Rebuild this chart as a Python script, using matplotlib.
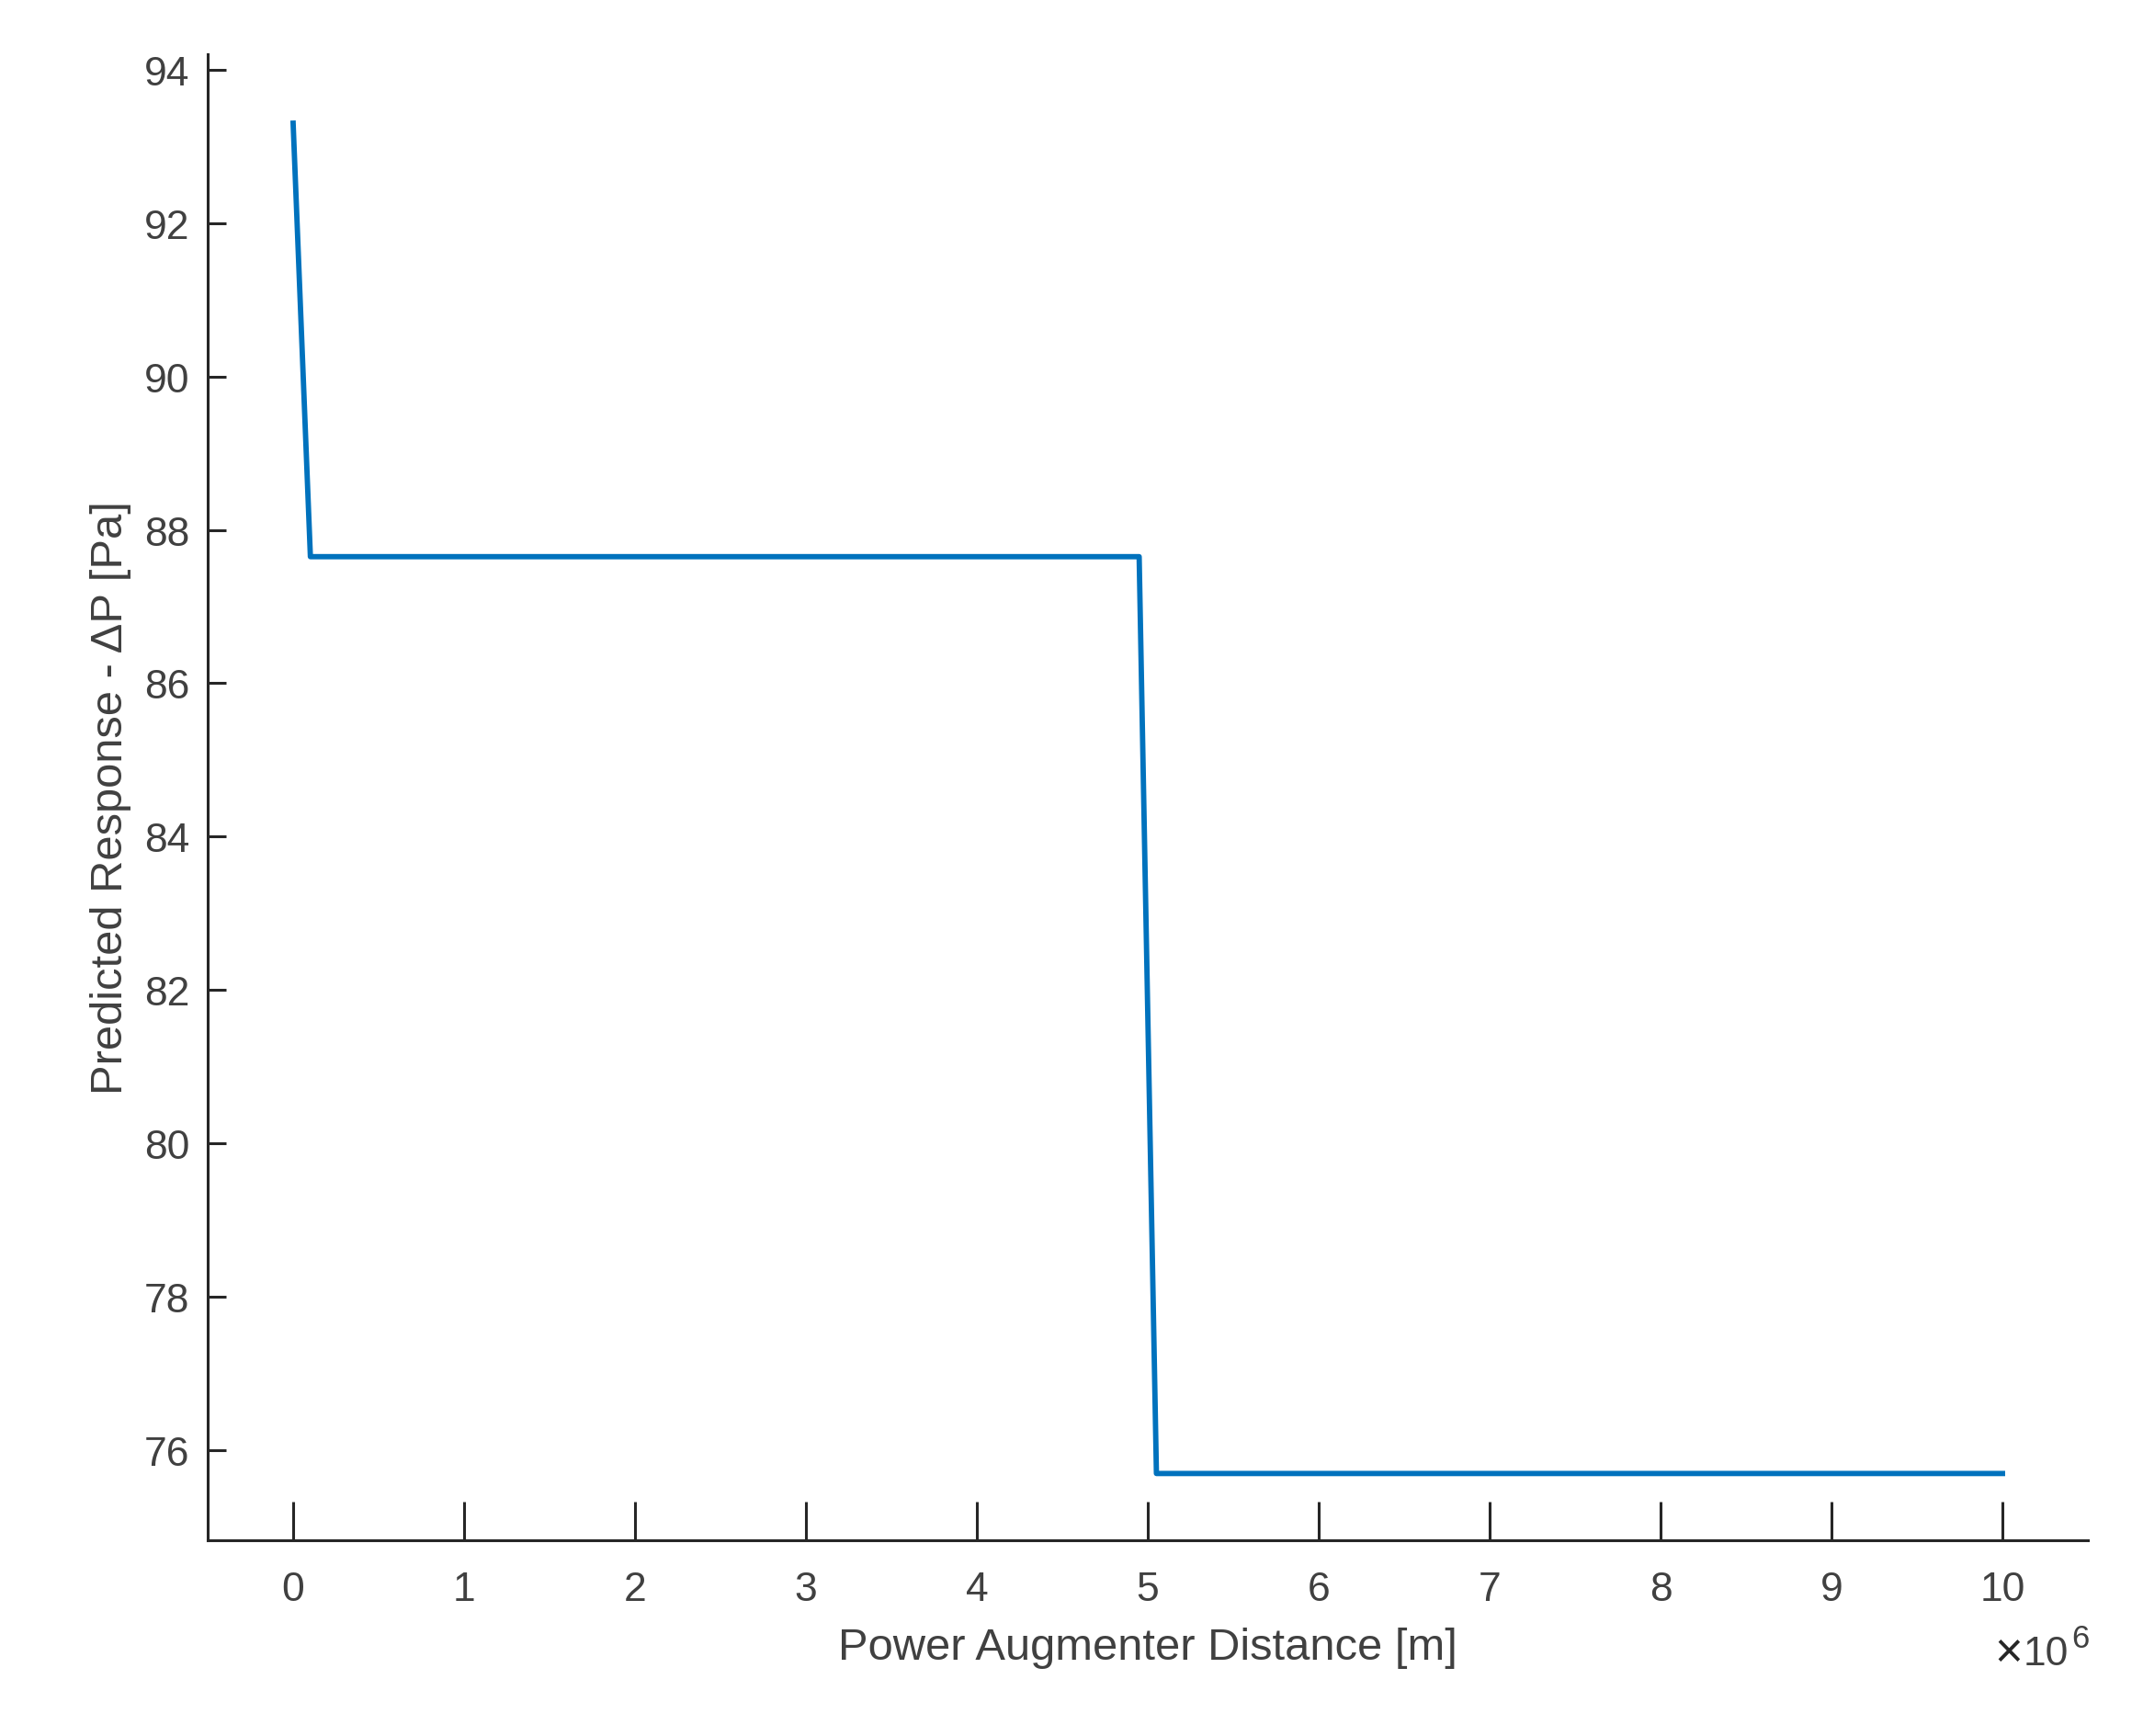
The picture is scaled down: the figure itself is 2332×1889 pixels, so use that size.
import matplotlib
matplotlib.use("Agg")
import matplotlib.pyplot as plt
from matplotlib.ticker import FuncFormatter

plt.rcParams['font.family'] = ['Liberation Sans', 'DejaVu Sans']

# predicted response vs augmenter distance (x in metres)
distance = [0.0, 0.10101e6, 4.94949e6, 5.05051e6, 10.0e6]
delta_p = [93.30, 87.65, 87.65, 75.70, 75.70]

x_ticks = [i * 1e6 for i in range(11)]
y_ticks = [76, 78, 80, 82, 84, 86, 88, 90, 92, 94]

axis_col = '#262626'
text_col = '#404040'

W, H = 2332, 1890
fig = plt.figure(figsize=(W / 200, H / 200), dpi=200)
ax = fig.add_axes([0.0969, 0.1127, 0.8774, 0.8556])

ax.plot(distance, delta_p, color='#0072BD', linewidth=2.1)

ax.set_xlim(-0.5e6, 10.5e6)
ax.set_ylim(74.83, 94.2)
ax.set_xticks(x_ticks)
ax.set_yticks(y_ticks)
ax.xaxis.set_major_formatter(FuncFormatter(lambda v, p: f"{v / 1e6:g}"))

for s in ['top', 'right']:
    ax.spines[s].set_visible(False)
for s in ['left', 'bottom']:
    ax.spines[s].set_color(axis_col)
    ax.spines[s].set_linewidth(1.1)

ax.tick_params(axis='x', direction='in', length=15, width=1.1, color=axis_col,
               labelcolor=text_col, labelsize=16, pad=12)
ax.tick_params(axis='y', direction='in', length=7.2, width=1.1, color=axis_col,
               labelcolor=text_col, labelsize=16, pad=7)

ax.set_xlabel('Power Augmenter Distance [m]', fontsize=17.6, color=text_col, labelpad=7)
ax.set_ylabel('Predicted Response - ΔP [Pa]', fontsize=17.6, color=text_col, labelpad=5)

# exponent label, MATLAB style
fig.text(2186 / W, 1 - 1801 / H, '×', ha='center', va='center', fontsize=19, color=axis_col)
fig.text(2251 / W, 1 - 1812 / H, '10', ha='right', va='baseline', fontsize=16, color=text_col)
fig.text(2254 / W, 1 - 1793 / H, '6', ha='left', va='baseline', fontsize=12.5, color=text_col)

fig.savefig('out.png', dpi=200)
